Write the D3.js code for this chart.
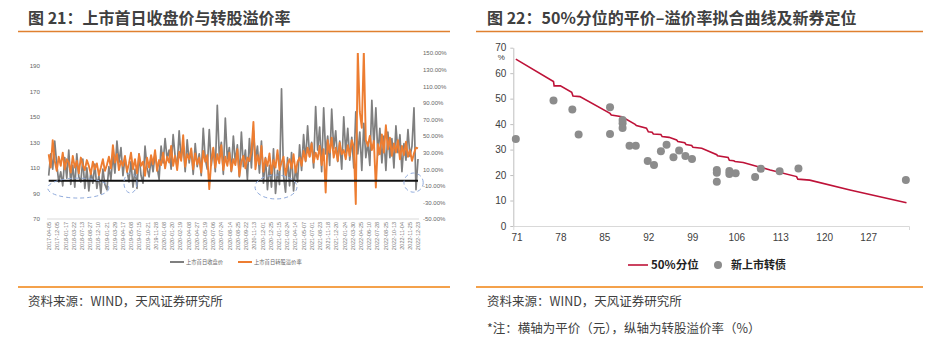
<!DOCTYPE html>
<html><head><meta charset="utf-8">
<script src="https://cdn.jsdelivr.net/npm/d3@7"></script>
<style>
body{margin:0;background:#fff;}
svg{display:block;font-family:"Liberation Sans","Noto Sans CJK SC",sans-serif;}
.cjk{font-family:"Noto Sans CJK SC","Liberation Sans",sans-serif;}
</style></head>
<body><svg id="c" width="942" height="344"></svg>
<script>
// ---------- Chart 21 data ----------
const dateLabels = ["2017-04-05","2017-12-05","2018-01-17","2018-03-22","2018-07-13","2018-08-27","2018-12-10","2019-01-21","2019-03-29","2019-04-17","2019-05-08","2019-07-15","2019-10-21","2019-11-28","2020-01-08","2020-01-20","2020-02-19","2020-04-08","2020-04-27","2020-05-19","2020-07-06","2020-07-24","2020-08-14","2020-08-25","2020-09-22","2020-11-13","2020-12-01","2020-12-25","2021-01-15","2021-02-24","2021-04-14","2021-05-07","2021-07-01","2021-08-23","2021-11-18","2021-12-20","2022-01-24","2022-03-30","2022-04-25","2022-06-10","2022-07-28","2022-08-25","2022-10-13","2022-11-04","2022-11-25","2022-12-23"];
const closePrice = [
104,121,109,131,113,99,107,96,118,102,
124,97,112,95,121,103,99,117,94,110,
92,107,98,113,94,104,90,109,97,93,
111,101,120,106,131,114,126,104,118,108,
99,115,95,109,94,121,104,98,127,110,
103,117,107,121,111,101,127,114,133,117,
124,109,136,119,111,139,117,128,107,132,
114,124,105,129,111,121,104,141,117,109,
140,112,125,107,159,119,130,105,149,117,
126,107,135,114,128,103,138,111,124,101,
133,110,139,116,127,106,131,98,118,93,
112,95,125,90,108,97,172,104,91,118,
96,122,92,110,99,128,108,136,115,143,
119,130,110,158,124,142,107,157,121,135,
112,156,125,139,115,131,109,150,122,141,
116,134,110,154,121,138,108,145,118,130,
112,163,127,157,120,141,114,135,108,138,
118,133,110,143,122,136,107,129,116,140,
119,127,157,93,117];
const premiumRate = [
28,12,45,20,8,25,14,30,10,22,
18,6,26,12,20,5,24,15,9,21,
14,4,19,10,17,3,12,22,8,15,
25,11,39,18,28,9,20,14,26,7,
17,30,10,22,5,28,14,19,2,24,
12,27,16,33,8,21,15,30,11,25,
18,38,14,26,9,31,20,51,13,28,
22,35,10,29,16,24,6,32,19,27,
-14,20,36,12,28,17,39,9,25,14,
30,8,22,15,34,2,19,26,11,24,
20,31,67,10,27,16,38,7,23,14,
29,5,21,12,33,9,18,25,3,16,
22,11,28,6,19,24,14,32,20,36,
25,41,18,30,22,38,15,34,-18,45,
30,48,24,36,20,42,28,33,22,39,
26,45,37,-32,152,79,60,152,45,38,
50,33,44,-12,40,28,52,30,63,34,
48,26,41,30,45,22,38,27,43,25,
33,20,29,36,35];
const leftTicks = [70,90,110,130,150,170,190];
const rightTicks = [-50,-30,-10,10,30,50,70,90,110,130,150];
const refLevel = 100;
// dashed highlight regions: index range and value range (left axis)
const highlights = [
  {i0:-0.5,i1:30,v0:86.4,v1:102},
  {i0:37.5,i1:44,v0:90.4,v1:106},
  {i0:102.8,i1:123.7,v0:85.7,v1:104.4},
  {i0:177,i1:186.6,v0:91,v1:106}
];
const seriesNames21 = ["上市首日收盘价","上市首日转股溢价率"];

// ---------- Chart 22 data ----------
const fitCurve = [[70.9,65.5],[76.9,56.7],[77.0,55.0],[78.0,55.0],[79.8,52.5],[80.0,51.0],[81.1,50.8],[85.9,44.2],[86.1,43.6],[87.8,42.9],[89.9,39.9],[90.1,39.4],[91.7,38.4],[92.0,37.0],[92.6,36.8],[92.8,36.1],[94.0,35.9],[94.2,35.1],[95.3,34.8],[96.5,33.8],[96.7,33.2],[97.8,32.7],[98.0,32.0],[98.9,31.6],[99.1,30.9],[100.5,30.5],[102.9,28.0],[103.0,27.6],[104.7,26.9],[104.9,25.8],[105.6,25.6],[105.8,25.3],[107.1,24.9],[109.5,23.3],[111.4,22.0],[115.6,19.4],[115.8,18.4],[117.7,18.0],[124.1,14.1],[133.1,9.1]];
const newBondsX = [70.9,76.9,79.9,80.9,85.9,85.9,87.9,87.9,87.9,89.0,90.0,91.9,92.9,94.0,94.9,96.0,96.9,97.9,98.95,102.9,102.9,102.9,104.9,104.9,105.9,109.0,109.9,112.9,115.9,133.0];
const newBondsY = [34.2,49.3,45.7,35.9,46.6,36.1,41.6,40.3,38.5,31.5,31.5,25.5,23.9,29.3,31.9,27.0,29.6,27.5,26.3,22.0,20.9,17.4,21.6,20.4,20.7,19.2,22.5,21.5,22.6,18.1];
const xTicks22 = [71,78,85,92,99,106,113,120,127];
const yTicks22 = [0,10,20,30,40,50,60,70];
const seriesNames22 = ["50%分位","新上市转债"];

const svg = d3.select("#c");
svg.append("rect").attr("width",942).attr("height",344).attr("fill","#fff");
const orange = "#ed7d31", grayC = "#7f7f7f", txt = "#404040";

// headers and footers
svg.append("text").attr("class","cjk").attr("x",28).attr("y",24).attr("font-size",16).attr("font-weight","bold").attr("fill",txt).text("图 21：上市首日收盘价与转股溢价率");
svg.append("text").attr("class","cjk").attr("x",487).attr("y",24).attr("font-size",16).attr("font-weight","bold").attr("fill",txt).text("图 22：50%分位的平价–溢价率拟合曲线及新券定位");
[[18,450],[476,923]].forEach(([a,b])=>{
  svg.append("line").attr("x1",a).attr("x2",b).attr("y1",31.5).attr("y2",31.5).attr("stroke","#e0802f").attr("stroke-width",1.3);
  svg.append("line").attr("x1",a).attr("x2",b).attr("y1",287).attr("y2",287).attr("stroke","#f0820f").attr("stroke-width",1.3);
});
svg.append("text").attr("class","cjk").attr("x",28).attr("y",306).attr("font-size",12.5).attr("fill",txt).text("资料来源：WIND，天风证券研究所");
svg.append("text").attr("class","cjk").attr("x",487).attr("y",306).attr("font-size",12.5).attr("fill",txt).text("资料来源：WIND，天风证券研究所");
svg.append("text").attr("class","cjk").attr("x",487).attr("y",333).attr("font-size",12.5).attr("fill",txt).text("*注：横轴为平价（元），纵轴为转股溢价率（%）");

// ---------- Chart 21 ----------
const N = closePrice.length;
const xI = d3.scaleLinear().domain([0,N-1]).range([48.7,418]);
const xD = d3.scalePoint().domain(dateLabels).range([48.7,418]);
const yL = d3.scaleLinear().domain([70,200]).range([219,53]);
const yR = d3.scaleLinear().domain([-50,150]).range([219,53]);
const g1 = svg.append("g");
g1.append("defs").append("clipPath").attr("id","clip1").append("rect").attr("x",40).attr("y",53).attr("width",390).attr("height",170);
// x axis line
g1.append("line").attr("x1",47).attr("x2",419).attr("y1",yL(70)).attr("y2",yL(70)).attr("stroke","#d9d9d9").attr("stroke-width",1);
// left ticks
const ax1 = d3.axisLeft(yL).tickValues(leftTicks).tickSize(0).tickPadding(4);
const gl = g1.append("g").attr("transform","translate(44,0)").call(ax1);
gl.select(".domain").remove();
gl.selectAll("text").attr("font-size",6.2).attr("fill","#666");
const ax2 = d3.axisRight(yR).tickValues(rightTicks).tickSize(0).tickPadding(0).tickFormat(d=>d.toFixed(2)+"%");
const gr = g1.append("g").attr("transform","translate(423,0)").call(ax2);
gr.select(".domain").remove();
gr.selectAll("text").attr("font-size",6).attr("fill","#666");
// date labels
const axd = d3.axisBottom(xD).tickSize(0).tickPadding(0);
const gd = g1.append("g").attr("transform",`translate(0,${yL(70)+2})`).call(axd);
gd.select(".domain").remove();
gd.selectAll("text").attr("font-size",5.5).attr("fill","#777").attr("text-anchor","end").attr("dy","0.35em").attr("transform","rotate(-90)").attr("x",-1).attr("y",0);
// series
const lineL = d3.line().x((d,i)=>xI(i)).y(d=>yL(d));
const lineR = d3.line().x((d,i)=>xI(i)).y(d=>yR(d));
const pg = g1.append("g").attr("clip-path","url(#clip1)");
pg.append("path").datum(closePrice).attr("d",lineL).attr("fill","none").attr("stroke",grayC).attr("stroke-width",1.7).attr("stroke-linejoin","round");
pg.append("path").datum(premiumRate).attr("d",lineR).attr("fill","none").attr("stroke",orange).attr("stroke-width",1.9).attr("stroke-linejoin","round");
g1.append("line").attr("x1",xI(0)).attr("x2",xI(N-1)).attr("y1",yL(refLevel)).attr("y2",yL(refLevel)).attr("stroke","#111").attr("stroke-width",2);
highlights.forEach(h=>{
  const x0=xI(h.i0),x1=xI(h.i1),y0=yL(h.v1),y1=yL(h.v0);
  g1.append("ellipse").attr("cx",(x0+x1)/2).attr("cy",(y0+y1)/2).attr("rx",(x1-x0)/2).attr("ry",(y1-y0)/2)
    .attr("fill","none").attr("stroke","#8faadc").attr("stroke-width",1).attr("stroke-dasharray","4,3");
});
// legend 21
[[170,grayC,seriesNames21[0]],[238,orange,seriesNames21[1]]].forEach(([x,c,t])=>{
  g1.append("line").attr("x1",x).attr("x2",x+14).attr("y1",262).attr("y2",262).attr("stroke",c).attr("stroke-width",2);
  g1.append("text").attr("class","cjk").attr("x",x+16).attr("y",264).attr("font-size",5.3).attr("fill","#666").text(t);
});

// ---------- Chart 22 ----------
const x2 = d3.scaleLinear().domain([70.5,133.5]).range([513.3,909]);
const y2 = d3.scaleLinear().domain([0,70]).range([226,47.7]);
const g2 = svg.append("g");
const xa = d3.axisBottom(x2).tickValues(xTicks22).tickSizeInner(0).tickSizeOuter(4).tickPadding(8);
const gx = g2.append("g").attr("transform",`translate(0,${y2(0)})`).call(xa);
gx.select(".domain").attr("stroke","#d9d9d9");
gx.selectAll("text").attr("font-size",10).attr("fill",txt);
const ya = d3.axisLeft(y2).tickValues(yTicks22).tickSizeInner(3).tickSizeOuter(0).tickPadding(4);
const gy = g2.append("g").attr("transform",`translate(${x2(70.5)},0)`).call(ya);
gy.select(".domain").attr("stroke","#bfbfbf");
gy.selectAll("line").attr("stroke","#bfbfbf");
gy.selectAll("text").attr("font-size",10).attr("fill",txt);
g2.append("text").attr("x",x2(70.5)-12).attr("y",y2(70)+12).attr("text-anchor","middle").attr("font-size",8).attr("fill",txt).text("%");
g2.append("path").datum(fitCurve).attr("d",d3.line().x(d=>x2(d[0])).y(d=>y2(d[1]))).attr("fill","none").attr("stroke","#be1238").attr("stroke-width",1.6);
g2.selectAll("circle.b").data(newBondsX.map((x,i)=>[x,newBondsY[i]])).join("circle").attr("class","b")
  .attr("cx",d=>x2(d[0])).attr("cy",d=>y2(d[1])).attr("r",4).attr("fill","#8c8c8c");
// legend 22
g2.append("line").attr("x1",628).attr("x2",648).attr("y1",265).attr("y2",265).attr("stroke","#be1238").attr("stroke-width",1.6);
g2.append("text").attr("class","cjk").attr("x",651).attr("y",269).attr("font-size",11.5).attr("font-weight","bold").attr("fill","#222").text(seriesNames22[0]);
g2.append("circle").attr("cx",718).attr("cy",265).attr("r",4).attr("fill","#8c8c8c");
g2.append("text").attr("class","cjk").attr("x",731).attr("y",269).attr("font-size",11).attr("font-weight","bold").attr("fill","#222").text(seriesNames22[1]);
</script></body></html>
